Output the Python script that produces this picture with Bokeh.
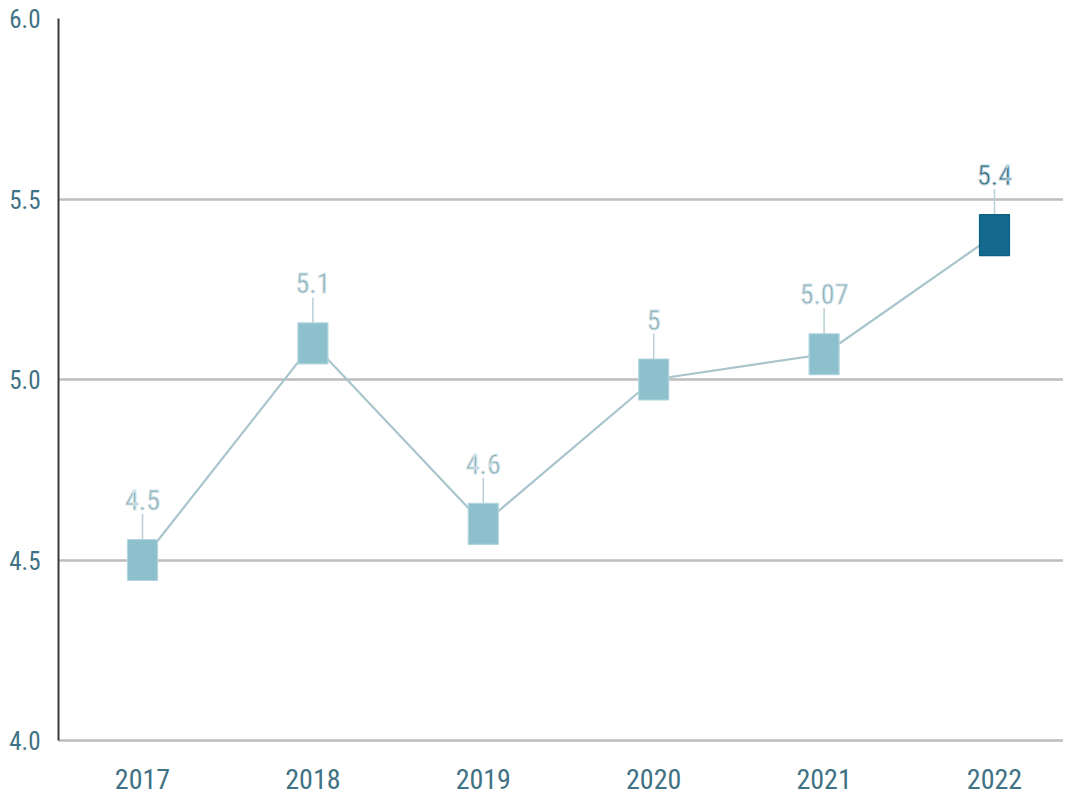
from bokeh.plotting import figure
from bokeh.models import ColumnDataSource, FixedTicker, Range1d, NumeralTickFormatter
from bokeh.core.properties import value
from bokeh.embed import file_html
from bokeh.resources import INLINE

years = ["2017", "2018", "2019", "2020", "2021", "2022"]
values = [4.5, 5.1, 4.6, 5.0, 5.07, 5.4]
labels = ["4.5", "5.1", "4.6", "5", "5.07", "5.4"]
y_ticks = [4.0, 4.5, 5.0, 5.5, 6.0]

FONT = "'Roboto Condensed', 'DejaVu Sans Condensed', 'Liberation Sans Narrow', Roboto"

light_fill = "#8cc0cd"
dark_fill = "#146a8e"
xs = list(range(len(years)))
last = len(years) - 1
fills = [dark_fill if i == last else light_fill for i in xs]
borders = ["#0f5f80" if i == last else "#b3d5de" for i in xs]
text_cols = ["#245c72" if i == last else "#86a7b0" for i in xs]
outline_cols = ["#bcd6de" if i == last else "#d4e6eb" for i in xs]

# leader lines in data units (pixels per unit ~ 361)
ppu = 361.0
src = ColumnDataSource(dict(
    x=xs, y=values, label=labels, fill=fills, border=borders, tcol=text_cols, ocol=outline_cols,
    ly0=[v + 20 / ppu for v in values],
    ly1=[v + 46 / ppu for v in values],
))

p = figure(width=1063, height=797, output_backend="svg", toolbar_location=None,
           x_range=Range1d(-0.493, 5.405), y_range=Range1d(4.0, 6.0),
           min_border_left=58, min_border_top=18, min_border_bottom=57, min_border_right=0)
p.outline_line_color = None
p.background_fill_color = "white"

# grid
p.xgrid.grid_line_color = None
p.ygrid.ticker = FixedTicker(ticks=y_ticks[1:])
p.ygrid.grid_line_color = "#bdbdbd"
p.ygrid.grid_line_width = 2.5

# y axis
p.yaxis.ticker = FixedTicker(ticks=y_ticks)
p.yaxis.formatter = NumeralTickFormatter(format="0.0")
p.yaxis.axis_line_color = "#3a3a3a"
p.yaxis.axis_line_width = 2
p.yaxis.major_tick_line_color = None
p.yaxis.minor_tick_line_color = None
p.yaxis.major_label_text_color = "#3f7284"
p.yaxis.major_label_text_font = FONT
p.yaxis.major_label_text_font_size = "25px"
p.yaxis.major_label_standoff = 12

# x axis
p.xaxis.ticker = FixedTicker(ticks=xs)
p.xaxis.major_label_overrides = {i: y for i, y in zip(xs, years)}
p.xaxis.axis_line_color = "#bdbdbd"
p.xaxis.axis_line_width = 2.5
p.xaxis.major_tick_line_color = None
p.xaxis.minor_tick_line_color = None
p.xaxis.major_label_text_color = "#3f7284"
p.xaxis.major_label_text_font = FONT
p.xaxis.major_label_text_font_size = "28px"
p.xaxis.major_label_standoff = 22

p.line("x", "y", source=src, line_color="#a9c5cc", line_width=2.2)
p.segment(x0="x", y0="ly0", x1="x", y1="ly1", source=src, line_color="#b8cfd5", line_width=1.5)
p.rect("x", "y", width=30, height=41, width_units="screen", height_units="screen",
       source=src, fill_color="fill", line_color="border", line_width=1.2)
p.text("x", "y", text="label", source=src, y_offset=-60, text_align="center",
       text_baseline="middle", text_color="tcol", text_font=value(FONT),
       text_font_size="28px", text_outline_color="ocol")

open("out.html", "w").write(file_html(p, INLINE))
